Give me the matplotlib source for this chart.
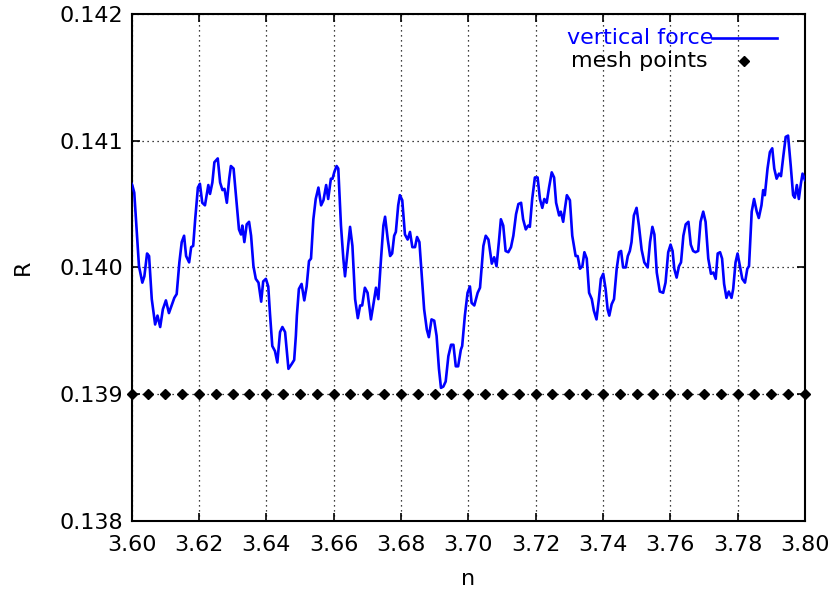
import matplotlib.pyplot as plt
import numpy as np

# vertical force
n_force = [3.6000, 3.6002, 3.6008, 3.6015, 3.6022, 3.6032, 3.6038, 3.6046, 3.6052, 3.6060,
           3.6070, 3.6077, 3.6085, 3.6093, 3.6102, 3.6111, 3.6119, 3.6127, 3.6134, 3.6142,
           3.6149, 3.6156, 3.6162, 3.6171, 3.6177, 3.6183, 3.6189, 3.6197, 3.6203, 3.6210,
           3.6218, 3.6228, 3.6233, 3.6240, 3.6246, 3.6256, 3.6263, 3.6270, 3.6276, 3.6283,
           3.6290, 3.6295, 3.6303, 3.6312, 3.6319, 3.6325, 3.6329, 3.6335, 3.6342, 3.6349,
           3.6355, 3.6362, 3.6369, 3.6377, 3.6385, 3.6391, 3.6399, 3.6406, 3.6411, 3.6418,
           3.6426, 3.6433, 3.6441, 3.6448, 3.6456, 3.6466, 3.6476, 3.6483, 3.6488, 3.6491,
           3.6497, 3.6505, 3.6513, 3.6520, 3.6527, 3.6533, 3.6540, 3.6547, 3.6555, 3.6563,
           3.6570, 3.6578, 3.6584, 3.6592, 3.6597, 3.6602, 3.6609, 3.6614, 3.6622, 3.6629,
           3.6634, 3.6642, 3.6649, 3.6656, 3.6664, 3.6672, 3.6679, 3.6685, 3.6693, 3.6701,
           3.6711, 3.6719, 3.6726, 3.6733, 3.6741, 3.6748, 3.6753, 3.6761, 3.6768, 3.6774,
           3.6780, 3.6785, 3.6792, 3.6797, 3.6804, 3.6812, 3.6820, 3.6827, 3.6834, 3.6842,
           3.6848, 3.6855, 3.6862, 3.6869, 3.6877, 3.6883, 3.6891, 3.6899, 3.6906, 3.6913,
           3.6919, 3.6926, 3.6933, 3.6941, 3.6949, 3.6956, 3.6963, 3.6970, 3.6978, 3.6982,
           3.6990, 3.6998, 3.7005, 3.7010, 3.7018, 3.7028, 3.7035, 3.7045, 3.7052, 3.7060,
           3.7070, 3.7077, 3.7084, 3.7091, 3.7097, 3.7104, 3.7111, 3.7119, 3.7127, 3.7134,
           3.7142, 3.7149, 3.7157, 3.7163, 3.7171, 3.7178, 3.7183, 3.7190, 3.7198, 3.7206,
           3.7213, 3.7220, 3.7226, 3.7233, 3.7240, 3.7248, 3.7255, 3.7261, 3.7270, 3.7275,
           3.7282, 3.7287, 3.7293, 3.7302, 3.7309, 3.7319, 3.7325, 3.7332, 3.7339, 3.7345,
           3.7352, 3.7359, 3.7367, 3.7373, 3.7381, 3.7388, 3.7394, 3.7401, 3.7408, 3.7414,
           3.7419, 3.7426, 3.7433, 3.7441, 3.7448, 3.7454, 3.7460, 3.7468, 3.7474, 3.7480,
           3.7485, 3.7492, 3.7500, 3.7507, 3.7515, 3.7523, 3.7533, 3.7540, 3.7547, 3.7553,
           3.7560, 3.7569, 3.7579, 3.7586, 3.7594, 3.7601, 3.7607, 3.7612, 3.7619, 3.7626,
           3.7632, 3.7639, 3.7646, 3.7654, 3.7661, 3.7668, 3.7675, 3.7683, 3.7690, 3.7698,
           3.7705, 3.7713, 3.7721, 3.7728, 3.7735, 3.7741, 3.7748, 3.7754, 3.7760, 3.7767,
           3.7774, 3.7782, 3.7787, 3.7794, 3.7800, 3.7807, 3.7814, 3.7822, 3.7829, 3.7834,
           3.7842, 3.7849, 3.7857, 3.7863, 3.7871, 3.7876, 3.7881, 3.7889, 3.7896, 3.7903,
           3.7909, 3.7916, 3.7923, 3.7929, 3.7936, 3.7943, 3.7950, 3.7958, 3.7965, 3.7970,
           3.7976, 3.7982, 3.7988, 3.7993, 3.8000]
r_force = [0.14066, 0.14065, 0.14059, 0.14030, 0.14001, 0.13988, 0.13993, 0.14011, 0.14009, 0.13975,
           0.13955, 0.13962, 0.13953, 0.13967, 0.13974, 0.13964, 0.13970, 0.13976, 0.13979, 0.14004,
           0.14020, 0.14025, 0.14009, 0.14004, 0.14016, 0.14017, 0.14038, 0.14063, 0.14066, 0.14051,
           0.14049, 0.14065, 0.14058, 0.14067, 0.14083, 0.14086, 0.14067, 0.14061, 0.14062, 0.14051,
           0.14070, 0.14080, 0.14078, 0.14051, 0.14030, 0.14026, 0.14033, 0.14020, 0.14034, 0.14036,
           0.14025, 0.14001, 0.13991, 0.13988, 0.13973, 0.13989, 0.13991, 0.13985, 0.13964, 0.13938,
           0.13934, 0.13925, 0.13949, 0.13953, 0.13949, 0.13920, 0.13924, 0.13927, 0.13946, 0.13962,
           0.13983, 0.13987, 0.13974, 0.13985, 0.14005, 0.14007, 0.14038, 0.14054, 0.14063, 0.14049,
           0.14053, 0.14065, 0.14054, 0.14070, 0.14070, 0.14075, 0.14080, 0.14078, 0.14033, 0.14007,
           0.13993, 0.14014, 0.14032, 0.14017, 0.13975, 0.13960, 0.13970, 0.13970, 0.13984, 0.13980,
           0.13959, 0.13972, 0.13984, 0.13975, 0.14007, 0.14033, 0.14040, 0.14022, 0.14009, 0.14011,
           0.14025, 0.14028, 0.14049, 0.14057, 0.14053, 0.14026, 0.14022, 0.14028, 0.14016, 0.14016,
           0.14024, 0.14020, 0.13993, 0.13967, 0.13951, 0.13945, 0.13959, 0.13958, 0.13946, 0.13920,
           0.13905, 0.13906, 0.13910, 0.13930, 0.13939, 0.13939, 0.13922, 0.13922, 0.13935, 0.13938,
           0.13962, 0.13980, 0.13985, 0.13972, 0.13970, 0.13980, 0.13984, 0.14017, 0.14025, 0.14022,
           0.14003, 0.14008, 0.14001, 0.14020, 0.14038, 0.14033, 0.14013, 0.14012, 0.14016, 0.14025,
           0.14042, 0.14050, 0.14051, 0.14038, 0.14030, 0.14033, 0.14032, 0.14054, 0.14071, 0.14071,
           0.14054, 0.14047, 0.14054, 0.14051, 0.14063, 0.14075, 0.14071, 0.14051, 0.14041, 0.14044,
           0.14036, 0.14046, 0.14057, 0.14053, 0.14025, 0.14009, 0.14009, 0.13999, 0.14001, 0.14012,
           0.14007, 0.13980, 0.13975, 0.13966, 0.13959, 0.13975, 0.13991, 0.13995, 0.13983, 0.13967,
           0.13962, 0.13971, 0.13975, 0.13999, 0.14012, 0.14013, 0.14000, 0.14000, 0.14009, 0.14013,
           0.14020, 0.14041, 0.14047, 0.14033, 0.14014, 0.14004, 0.14000, 0.14020, 0.14032, 0.14026,
           0.13996, 0.13981, 0.13980, 0.13988, 0.14012, 0.14018, 0.14013, 0.13999, 0.13992, 0.14001,
           0.14004, 0.14025, 0.14034, 0.14036, 0.14018, 0.14013, 0.14012, 0.14013, 0.14036, 0.14044,
           0.14036, 0.14007, 0.13995, 0.13996, 0.13991, 0.14011, 0.14012, 0.14007, 0.13987, 0.13976,
           0.13981, 0.13976, 0.13983, 0.14004, 0.14011, 0.14001, 0.13991, 0.13988, 0.13999, 0.14001,
           0.14044, 0.14054, 0.14044, 0.14039, 0.14049, 0.14061, 0.14057, 0.14078, 0.14091, 0.14094,
           0.14078, 0.14070, 0.14074, 0.14072, 0.14088, 0.14103, 0.14104, 0.14080, 0.14057, 0.14055,
           0.14065, 0.14054, 0.14066, 0.14074, 0.14069]

# mesh points, every 0.005 at R = 0.139
n_mesh = [3.600, 3.605, 3.610, 3.615, 3.620, 3.625, 3.630, 3.635, 3.640, 3.645,
          3.650, 3.655, 3.660, 3.665, 3.670, 3.675, 3.680, 3.685, 3.690, 3.695,
          3.700, 3.705, 3.710, 3.715, 3.720, 3.725, 3.730, 3.735, 3.740, 3.745,
          3.750, 3.755, 3.760, 3.765, 3.770, 3.775, 3.780, 3.785, 3.790, 3.795, 3.800]
r_mesh = [0.139] * len(n_mesh)

x_ticks = [3.60, 3.62, 3.64, 3.66, 3.68, 3.70, 3.72, 3.74, 3.76, 3.78, 3.80]
y_ticks = [0.138, 0.139, 0.140, 0.141, 0.142]

fig = plt.figure(figsize=(8.38, 5.92), dpi=100)
ax = fig.add_axes([0.157, 0.120, 0.8035, 0.8565])

ax.plot(n_force, r_force, color='#0000ff', lw=1.9, zorder=3)
ax.plot(n_mesh, r_mesh, ls='none', marker='D', ms=5, color='black', zorder=4, clip_on=False)

ax.set_xlim(3.60, 3.80)
ax.set_ylim(0.138, 0.142)
ax.set_xticks(x_ticks)
ax.set_yticks(y_ticks)
ax.set_xticklabels(['%.2f' % v for v in x_ticks])
ax.set_yticklabels(['%.3f' % v for v in y_ticks])

ax.grid(True, color='black', linestyle=(0, (1, 3)), linewidth=0.9)
ax.tick_params(direction='in', length=6, width=1.2, top=True, right=True,
               labelsize=16, colors='black')
ax.tick_params(axis='x', pad=10)
ax.tick_params(axis='y', pad=6)
for s in ax.spines.values():
    s.set_linewidth(1.5)

ax.set_xlabel('n', fontsize=16, labelpad=10)
ax.set_ylabel('R', fontsize=16, labelpad=19)

# gnuplot-style key, right justified
ax.text(0.8634, 0.9527, 'vertical force', color='#0000ff', fontsize=16,
        ha='right', va='center', transform=ax.transAxes)
ax.plot([0.8626, 0.958], [0.9527, 0.9527], color='#0000ff', lw=1.9,
        transform=ax.transAxes)
ax.text(0.856, 0.9073, 'mesh points', color='black', fontsize=16,
        ha='right', va='center', transform=ax.transAxes)
ax.plot([0.9094], [0.9073], marker='D', ms=5, color='black', ls='none',
        transform=ax.transAxes)

fig.savefig('out.png', dpi=100)
